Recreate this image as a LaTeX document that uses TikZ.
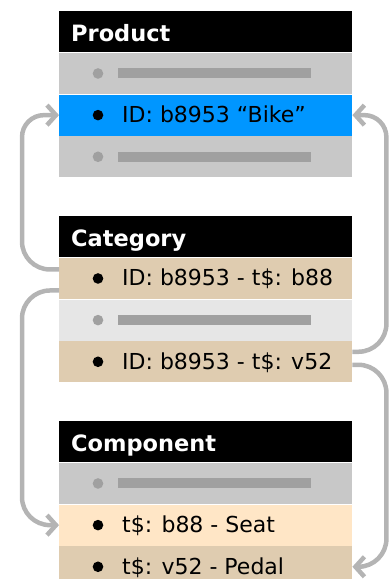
\documentclass[tikz,border=0pt]{standalone}
\usepackage{fontspec}
\setmainfont{DejaVu Sans}
\usetikzlibrary{positioning, arrows.meta}

\definecolor{rowgray}{HTML}{C8C8C8}
\definecolor{lightgray}{HTML}{E6E6E6}
\definecolor{bargray}{HTML}{A0A0A0}
\definecolor{idblue}{HTML}{0096FF}
\definecolor{tan}{HTML}{DFCCB0}
\definecolor{peach}{HTML}{FFE6C6}
\definecolor{linkgray}{HTML}{B4B4B4}

% placeholder row: grey dot and grey bar
\newcommand{\rowfiller}[1]{%
	\fill[bargray] ([xshift=39pt]#1.west) circle (5.3pt);
	\fill[bargray] ([xshift=59pt,yshift=-5pt]#1.west) rectangle ([xshift=252pt,yshift=5pt]#1.west);}
% row with a bullet and a text
\newcommand{\rowentry}[2]{%
	\fill ([xshift=39pt]#1.west) circle (5.3pt);
	\node[entry] (#1txt) at ([xshift=63pt,yshift=-7.5pt]#1.west) {#2};}

\begin{document}
\begin{tikzpicture}[x=1pt, y=-1pt,
	head/.style={anchor=north west, fill=black, text=white, font=\bfseries\fontsize{22.5}{26}\selectfont, text width=269pt, align=left, inner xsep=12pt, inner ysep=0pt, minimum height=41.25pt, text height=20pt, text depth=0pt},
	row/.style={minimum width=293pt, minimum height=41.25pt, inner sep=0pt},
	entry/.style={anchor=base west, inner sep=0pt, font=\fontsize{22}{26}\selectfont},
	link/.style={draw=linkgray, line width=4.5pt, -{Straight Barb[length=9pt,width=20pt]}}]
	\useasboundingbox (0,0) rectangle (389,579);

	% Product
	\node[head] (prod) at (59,11) {Product};
	\node[row, fill=rowgray, below=0pt of prod] (prod1) {};
	\node[row, fill=idblue, below=0pt of prod1] (prod2) {};
	\node[row, fill=rowgray, below=0pt of prod2] (prod3) {};
	\rowfiller{prod1}
	\rowentry{prod2}{ID: b8953 “Bike”}
	\rowfiller{prod3}

	% Category
	\node[head] (cat) at (59,216) {Category};
	\node[row, fill=tan, below=0pt of cat] (cat1) {};
	\node[row, fill=lightgray, below=0pt of cat1] (cat2) {};
	\node[row, fill=tan, below=0pt of cat2] (cat3) {};
	\rowentry{cat1}{ID: b8953 - t\$: b88}
	\rowfiller{cat2}
	\rowentry{cat3}{ID: b8953 - t\$: v52}

	% Component
	\node[head] (comp) at (59,421) {Component};
	\node[row, fill=rowgray, below=0pt of comp] (comp1) {};
	\node[row, fill=peach, below=0pt of comp1] (comp2) {};
	\node[row, fill=tan, below=0pt of comp2] (comp3) {};
	\rowfiller{comp1}
	\rowentry{comp2}{t\$: b88 - Seat}
	\rowentry{comp3}{t\$: v52 - Pedal}

	% links
	\draw[link] ([yshift=9pt]cat1.west) [rounded corners=28pt] -- ++(-37,0) [rounded corners=22pt] |- (prod2.west);
	\draw[link] ([yshift=-12pt]cat1.west) [rounded corners=28pt] -- ++(-37,0) |- (comp2.west);
	\draw[link] ([yshift=10pt]cat3.east) [rounded corners=28pt] -- ++(34,0) [rounded corners=22pt] |- (prod2.east);
	\draw[link] ([yshift=-3pt]cat3.east) [rounded corners=28pt] -- ++(34,0) |- (comp3.east);
\end{tikzpicture}
\end{document}
